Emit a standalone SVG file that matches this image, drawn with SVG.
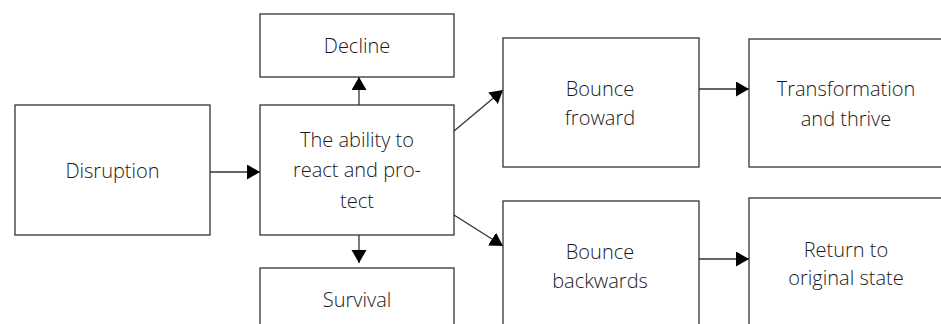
<svg xmlns="http://www.w3.org/2000/svg" width="941" height="324" viewBox="0 0 941 324">
<style>
.box{fill:#fff;stroke:#333;stroke-width:1.3}
.t{font-family:"Open Sans","Noto Sans","Liberation Sans",sans-serif;font-size:20px;font-weight:300;fill:#1a1a1a;text-anchor:middle}
.c{stroke:#333;stroke-width:1.3;fill:none;marker-end:url(#ah)}
</style>
<defs>
<marker id="ah" markerUnits="userSpaceOnUse" markerWidth="14" markerHeight="16" refX="13" refY="7.5" orient="auto">
<path d="M0,0 L13,7.5 L0,15 z" fill="#000"/>
</marker>
</defs>
<rect width="941" height="324" fill="#fff"/>
<g id="connectors">
<line class="c" x1="210" y1="172" x2="260" y2="172"/>
<line class="c" x1="359" y1="105" x2="359" y2="77"/>
<line class="c" x1="359" y1="235" x2="359" y2="263"/>
<line class="c" x1="454" y1="131" x2="503" y2="90"/>
<line class="c" x1="454" y1="215" x2="503" y2="246"/>
<line class="c" x1="699" y1="89" x2="749" y2="89"/>
<line class="c" x1="699" y1="259" x2="749" y2="259"/>
</g>
<g id="disruption"><rect class="box" x="15" y="105" width="195" height="130"/><text class="t" x="112.5" y="178">Disruption</text></g>
<g id="ability"><rect class="box" x="260" y="105" width="194" height="130"/><text class="t" x="357" y="147">The ability to</text><text class="t" x="357" y="177">react and pro-</text><text class="t" x="357" y="208">tect</text></g>
<g id="decline"><rect class="box" x="260" y="14" width="194" height="63"/><text class="t" x="357" y="53">Decline</text></g>
<g id="survival"><rect class="box" x="260" y="268" width="194" height="70"/><text class="t" x="357" y="307">Survival</text></g>
<g id="bounce-forward"><rect class="box" x="503" y="38" width="196" height="129"/><text class="t" x="600" y="96">Bounce</text><text class="t" x="600" y="125">froward</text></g>
<g id="transformation"><rect class="box" x="749" y="39" width="210" height="128"/><text class="t" x="846" y="96">Transformation</text><text class="t" x="846" y="126">and thrive</text></g>
<g id="bounce-backwards"><rect class="box" x="503" y="201" width="196" height="140"/><text class="t" x="600" y="259">Bounce</text><text class="t" x="600" y="288">backwards</text></g>
<g id="return"><rect class="box" x="749" y="198" width="210" height="140"/><text class="t" x="846" y="257">Return to</text><text class="t" x="846" y="285">original state</text></g>
</svg>
